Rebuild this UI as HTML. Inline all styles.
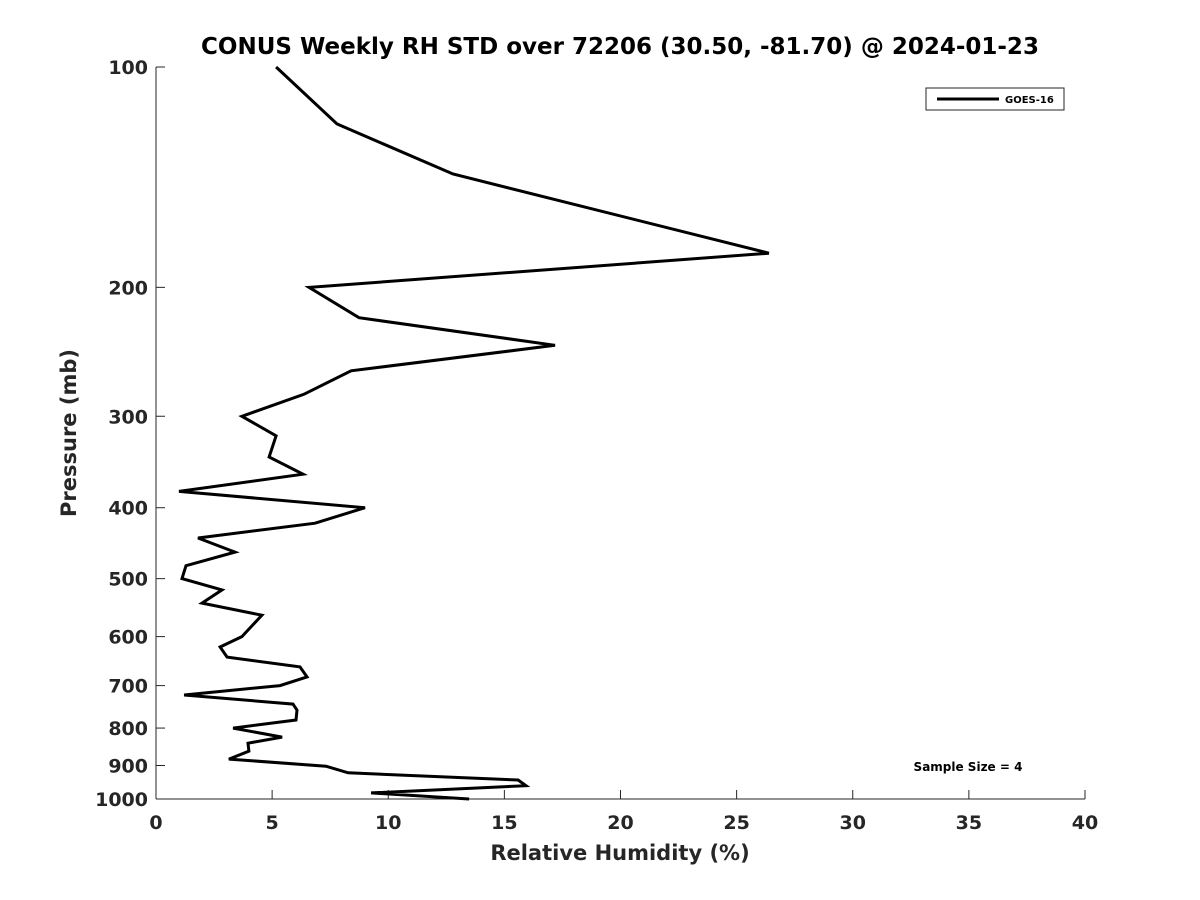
<!DOCTYPE html>
<html><head><meta charset="utf-8"><style>
html,body{margin:0;padding:0;background:#fff;}
svg{display:block;font-family:"DejaVu Sans","Liberation Sans",sans-serif;}
</style></head><body>
<svg id="chart" width="1200" height="900" viewBox="0 0 1200 900">
<rect width="1200" height="900" fill="#fff"/>
<text x="620" y="54" text-anchor="middle" font-size="23" font-weight="bold" fill="#000">CONUS Weekly RH STD over 72206 (30.50, -81.70) @ 2024-01-23</text>
<g id="axes"></g>
<text x="620" y="860" text-anchor="middle" font-size="21" font-weight="bold" fill="#262626">Relative Humidity (%)</text>
<text transform="translate(76,433) rotate(-90)" text-anchor="middle" font-size="21" font-weight="bold" fill="#262626">Pressure (mb)</text>
<g>
<rect x="926" y="88" width="138" height="22" fill="#fff" stroke="#262626" stroke-width="1"/>
<line x1="937" y1="99" x2="999" y2="99" stroke="#000" stroke-width="3"/>
<text x="1005" y="103" font-size="10" font-weight="bold" fill="#000">GOES-16</text>
</g>
<text x="968" y="771" text-anchor="middle" font-size="12" font-weight="bold" fill="#000">Sample Size = 4</text>
</svg>
<script>
const xTicks = [0,5,10,15,20,25,30,35,40];
const yTicks = [100,200,300,400,500,600,700,800,900,1000];
const rhStd = [5.17,7.79,12.79,26.39,6.59,8.74,17.18,8.40,6.37,3.70,5.17,4.87,6.33,0.99,9.00,6.85,1.81,3.40,1.29,1.12,2.84,1.98,4.56,3.70,2.76,3.06,6.20,6.50,5.34,1.21,5.90,6.07,6.03,3.32,5.43,3.96,4.00,3.14,7.32,8.27,15.59,15.93,9.26,13.48];
const pressure = [100,119.6,140,179.6,200,220,240,260,280,300,319,341,360,380,400,420,440,460,480,500,518,540,561,600,620,640,660,681,700,721,742,756,780,800,823,839,860,882,902,921,942,959,981,1000];

const L=156,R=1085,T=67,B=799;
const xS=v=>L+(v-0)/(40-0)*(R-L);
const yS=p=>T+Math.log10(p/100)*(B-T);
const NS="http://www.w3.org/2000/svg";
const svg=document.getElementById('chart');
const g=document.getElementById('axes');
function mk(t,a,parent){const e=document.createElementNS(NS,t);for(const k in a)e.setAttribute(k,a[k]);(parent||g).appendChild(e);return e;}

const xa=mk('line',{x1:L,y1:B,x2:R,y2:B,stroke:'#262626','stroke-width':1});


const ya=mk('line',{x1:L,y1:T,x2:L,y2:B,stroke:'#262626','stroke-width':1});



xTicks.forEach(v=>{
  const x=xS(v);
  mk('line',{x1:x,y1:B,x2:x,y2:B-9,stroke:'#262626'});
  const t=mk('text',{x:x,y:B+30,'text-anchor':'middle','font-size':19,'font-weight':'bold',fill:'#262626'});
  t.textContent=v;
  
  
});
yTicks.forEach(p=>{
  const y=yS(p);
  mk('line',{x1:L,y1:y,x2:L+9,y2:y,stroke:'#262626'});
  const t=mk('text',{x:L-8,y:y+7,'text-anchor':'end','font-size':19,'font-weight':'bold',fill:'#262626'});
  t.textContent=p;
  
  
});

const pts=rhStd.map((v,i)=>xS(v).toFixed(1)+','+yS(pressure[i]).toFixed(1)).join(' ');
const line=mk('polyline',{points:pts,fill:'none',stroke:'#000','stroke-width':3,'stroke-linejoin':'miter'},svg);


</script>
</body></html>
